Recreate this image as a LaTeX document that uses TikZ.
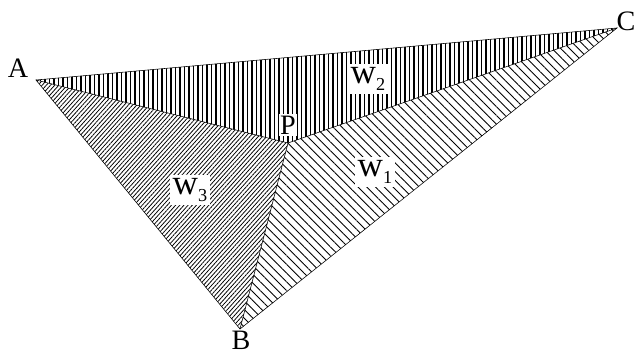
\documentclass[tikz,border=0pt]{standalone}
\usepackage{fontspec}
\setmainfont{Liberation Serif}
\usetikzlibrary{patterns.meta}
\tikzset{
  vtx/.style={inner sep=1pt, font=\fontsize{20}{20}\selectfont},
  wlbl/.style={fill=white, inner sep=2pt, font=\fontsize{25}{25}\selectfont},
}
\newcommand{\wsub}[1]{w\lower0.45ex\hbox{\fontsize{13}{13}\selectfont #1}}
\begin{document}
\begin{tikzpicture}[x=0.025cm,y=-0.025cm]
\useasboundingbox (0,0) rectangle (636,354);
\coordinate (A) at (36,80);
\coordinate (B) at (240,329);
\coordinate (C) at (617,28);
\coordinate (P) at (288,143);
% the three regions
\fill[pattern={Lines[angle=90,distance=3.2pt,line width=0.8pt]}] (A) -- (P) -- (C) -- cycle;
\fill[pattern={Lines[angle=-45,distance=4.4pt,line width=0.6pt]}] (P) -- (B) -- (C) -- cycle;
\fill[pattern={Lines[angle=48,distance=2.2pt,line width=0.55pt]}] (A) -- (P) -- (B) -- cycle;
\draw[thin] (A) -- (C) -- (B) -- cycle;
\draw[thin] (A) -- (P) -- (C);
\draw[thin] (P) -- (B);
% labels
\node[vtx] (labA) at (18,68) {A};
\node[vtx] (labB) at (241,340) {B};
\node[vtx] (labC) at (626,21) {C};
\node[vtx, fill=white] (labP) at (288,125) {P};
\node[wlbl] (w1) at (375,172) {\wsub{1}};
\node[wlbl] (w2) at (368,79) {\wsub{2}};
\node[wlbl] (w3) at (190,190) {\wsub{3}};
\end{tikzpicture}
\end{document}
